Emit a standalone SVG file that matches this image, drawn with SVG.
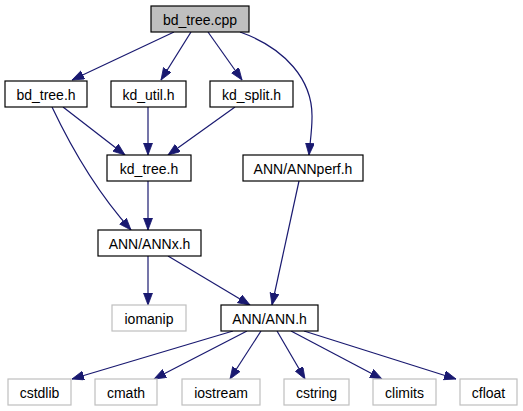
<svg xmlns="http://www.w3.org/2000/svg" width="523" height="411" viewBox="0 0 523 411">
<defs>
<style>
.n rect{fill:#ffffff;stroke:#000000;stroke-width:1.2}
.n.root rect{fill:#bfbfbf}
.n.ext rect{stroke:#bfbfbf}
.n text{font-family:"Liberation Sans",Arial,sans-serif;font-size:14px;fill:#000000;text-anchor:middle}
#edges path{fill:none;stroke:#191970;stroke-width:1.2;marker-end:url(#arr)}
</style>
<marker id="arr" markerUnits="userSpaceOnUse" markerWidth="13" markerHeight="10" refX="12" refY="4.5" orient="auto">
<path d="M0,0 L12,4.5 L0,9 z" fill="#191970" stroke="#191970" stroke-width="0.8"/>
</marker>
</defs>
<rect width="523" height="411" fill="#ffffff"/>
<g id="edges">
<path d="M174,32 L72,80"/>
<path d="M191,32 L161,80"/>
<path d="M208,32 L242,80"/>
<path d="M240,32 C285,48 313,80 312,118 C312,130 310,143 309,155"/>
<path d="M63,107 L125,155"/>
<path d="M148,107 L148,155"/>
<path d="M235,107 L168,155"/>
<path d="M52,107 C70,145 95,190 131,230"/>
<path d="M148,181 L148,230"/>
<path d="M299,181 L272,305"/>
<path d="M148,256 L148,305"/>
<path d="M168,256 L250,305"/>
<path d="M233,331 L72,379"/>
<path d="M247,331 L154,379"/>
<path d="M261,331 L230,379"/>
<path d="M277,331 L305,379"/>
<path d="M291,331 L382,379"/>
<path d="M304,331 L456,379"/>
</g>
<g id="bd_tree_cpp" class="n root"><rect x="151" y="6" width="98" height="26"/><text x="200" y="24.5">bd_tree.cpp</text></g>
<g id="bd_tree_h" class="n"><rect x="5" y="81" width="82" height="26"/><text x="46" y="99.5">bd_tree.h</text></g>
<g id="kd_util_h" class="n"><rect x="111" y="81" width="75" height="26"/><text x="148.5" y="99.5">kd_util.h</text></g>
<g id="kd_split_h" class="n"><rect x="210" y="81" width="83" height="26"/><text x="251.5" y="99.5">kd_split.h</text></g>
<g id="kd_tree_h" class="n"><rect x="107" y="155" width="84" height="26"/><text x="149" y="173.5">kd_tree.h</text></g>
<g id="ANNperf_h" class="n"><rect x="243" y="155" width="120" height="26"/><text x="303" y="173.5">ANN/ANNperf.h</text></g>
<g id="ANNx_h" class="n"><rect x="98" y="230" width="103" height="26"/><text x="149.5" y="248.5">ANN/ANNx.h</text></g>
<g id="iomanip" class="n ext"><rect x="112" y="305" width="74" height="26"/><text x="149" y="323.5">iomanip</text></g>
<g id="ANN_h" class="n"><rect x="221" y="305" width="97" height="26"/><text x="269.5" y="323.5">ANN/ANN.h</text></g>
<g id="cstdlib" class="n ext"><rect x="8" y="379" width="63" height="26"/><text x="39.5" y="397.5">cstdlib</text></g>
<g id="cmath" class="n ext"><rect x="95" y="379" width="62" height="26"/><text x="126" y="397.5">cmath</text></g>
<g id="iostream" class="n ext"><rect x="182" y="379" width="78" height="26"/><text x="221" y="397.5">iostream</text></g>
<g id="cstring" class="n ext"><rect x="284" y="379" width="65" height="26"/><text x="316.5" y="397.5">cstring</text></g>
<g id="climits" class="n ext"><rect x="373" y="379" width="63" height="26"/><text x="404.5" y="397.5">climits</text></g>
<g id="cfloat" class="n ext"><rect x="460" y="379" width="57" height="26"/><text x="488.5" y="397.5">cfloat</text></g>
</svg>
